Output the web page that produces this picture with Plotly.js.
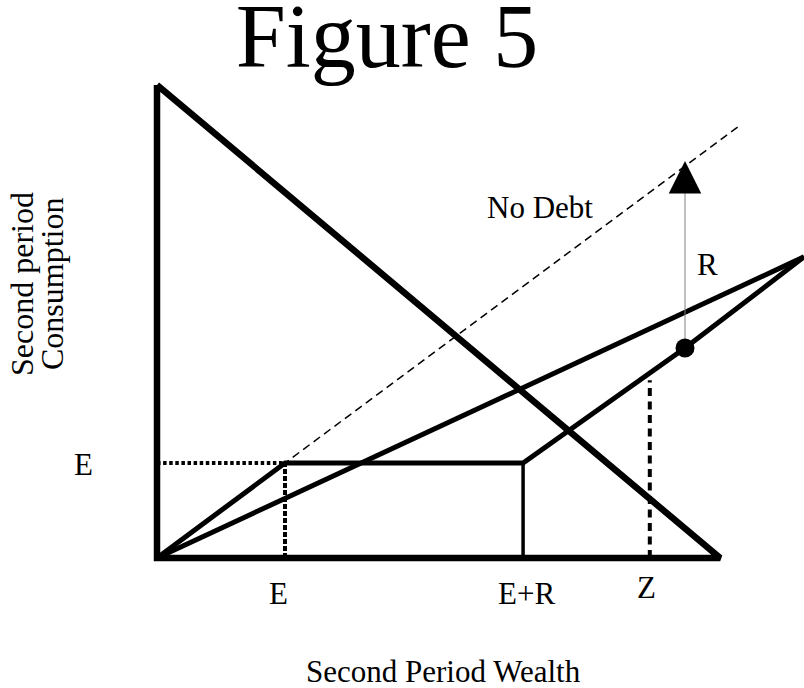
<!DOCTYPE html>
<html>
<head>
<meta charset="utf-8">
<script src="https://cdn.plot.ly/plotly-3.0.1.min.js"></script>
<style>html,body{margin:0;padding:0;background:#fff;}#chart{width:804px;height:688px;}</style>
</head>
<body>
<div id="chart"></div>
<script>
// ---- data (model units: endowment E = 10 on both axes) ----
const E = 10;            // endowment level
const ER = 28.6;         // E + R on the wealth axis
const Z = 38.5;          // wealth level Z
const ZTop = 18.7;       // height of the Z guide line
const triX = [0, 0, 44, 0];          // budget triangle
const triY = [49.8, 0, 0, 49.8];
const noDebtX = [0, 45.5];           // 45-degree "No Debt" line
const noDebtY = [0, 45.5];
const kinkX = [0, E, ER, 41.25, 50.55];  // kinked consumption schedule
const kinkY = [0, E, E, 22.1, 31.7];
const rayX = [0, 50.55];             // straight ray
const rayY = [0, 31.7];
const dotX = [41.25];
const dotY = [22.1];
const arrowTopY = 41.8;              // top of the R arrow
const labels = {xE: 'E', xER: 'E+R', xZ: 'Z', yE: 'E'};

const W = 804, H = 688;
const px = v => v / W, py = v => 1 - v / H;
const serif = 'Liberation Serif, Times New Roman, serif';

const traces = [
  {x: triX, y: triY, mode: 'lines', line: {color: '#000', width: 6.5}},
  {x: noDebtX, y: noDebtY, mode: 'lines', line: {color: '#000', width: 1.5, dash: '8px,5px'}},
  {x: rayX, y: rayY, mode: 'lines', line: {color: '#000', width: 5}},
  {x: kinkX, y: kinkY, mode: 'lines', line: {color: '#000', width: 5}},
  {x: [0, E], y: [E, E], mode: 'lines', line: {color: '#000', width: 4, dash: '3.5px,2.6px'}},
  {x: [E, E], y: [0, E], mode: 'lines', line: {color: '#000', width: 4, dash: '5px,2px'}},
  {x: [ER, ER], y: [0, E], mode: 'lines', line: {color: '#000', width: 3.5}},
  {x: [Z, Z], y: [0, ZTop], mode: 'lines', line: {color: '#000', width: 4, dash: '8px,5.5px'}},
  {x: [dotX[0], dotX[0]], y: [dotY[0], arrowTopY - 1.5], mode: 'lines', line: {color: '#808080', width: 1}},
  {x: dotX, y: dotY, mode: 'markers', marker: {color: '#000', size: 19}}
];

const ann = (text, x, y, extra) => Object.assign({
  text: text, xref: 'paper', yref: 'paper', x: px(x), y: py(y),
  xanchor: 'center', yanchor: 'middle', showarrow: false,
  font: {family: serif, size: 31, color: '#000'}
}, extra || {});

const annotations = [
  {x: dotX[0], y: arrowTopY, ax: dotX[0], ay: arrowTopY - 2.5, xref: 'x', yref: 'y', axref: 'x', ayref: 'y',
   showarrow: true, arrowhead: 2, arrowsize: 6.5, arrowwidth: 1, arrowcolor: '#000', text: ''},
  ann('No Debt', 540, 207),
  ann('R', 707, 264),
  ann(labels.yE, 83, 464),
  ann(labels.xE, 278, 593),
  ann(labels.xER, 526, 593),
  ann(labels.xZ, 646, 587),
  ann('Second Period Wealth', 443, 671),
  ann('Second period', 22, 284, {textangle: -90, font: {family: serif, size: 32, color: '#000'}}),
  ann('Consumption', 52, 284, {textangle: -90, font: {family: serif, size: 32, color: '#000'}})
];

const layout = {
  width: W, height: H,
  margin: {l: 0, r: 0, t: 0, b: 0},
  paper_bgcolor: '#fff', plot_bgcolor: '#fff',
  showlegend: false,
  title: {text: 'Figure 5', font: {family: serif, size: 90, color: '#000'},
          x: px(387), xanchor: 'center', xref: 'container', y: py(35), yanchor: 'middle', yref: 'container'},
  xaxis: {range: [-157 / 12.8, (804 - 157) / 12.8], visible: false, fixedrange: true},
  yaxis: {range: [(558 - 688) / 9.5, 558 / 9.5], visible: false, fixedrange: true},
  annotations: annotations,
  hovermode: false
};

Plotly.newPlot('chart', traces, layout, {displayModeBar: false, staticPlot: true});
</script>
</body>
</html>
